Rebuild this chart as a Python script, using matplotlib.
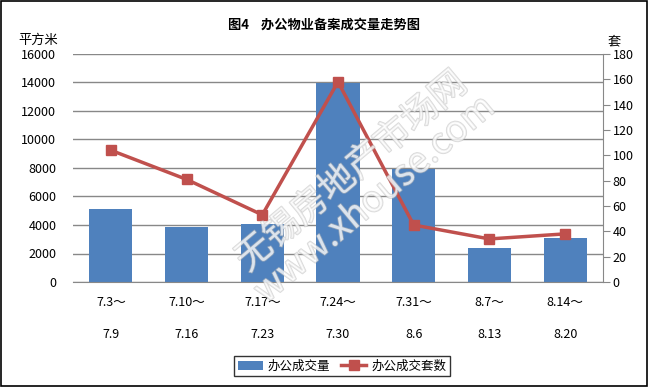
import matplotlib
matplotlib.use("Agg")
import numpy as np
from matplotlib import pyplot as plt
from matplotlib.patches import Rectangle
import matplotlib.patheffects as pe

plt.rcParams['font.family'] = ['Noto Sans CJK SC', 'DejaVu Sans']

# data
periods = ["7.3～\n\n7.9", "7.10～\n\n7.16", "7.17～\n\n7.23", "7.24～\n\n7.30",
           "7.31～\n\n8.6", "8.7～\n\n8.13", "8.14～\n\n8.20"]
area = [5120, 3860, 4070, 13990, 7930, 2390, 3090]      # 办公成交量 (平方米)
units = [104, 81, 53, 158, 45, 34, 38]                  # 办公成交套数 (套)

BLUE = "#4f81bd"
RED = "#c0504d"
GRID = "#888888"

fig = plt.figure(figsize=(6.49, 3.87), dpi=100)
fig.patches.append(Rectangle((0.002, 0.003), 0.995, 0.994, transform=fig.transFigure,
                             fill=False, edgecolor="black", linewidth=1.2))

ax = fig.add_axes([73 / 649, 1 - 282 / 387, 530 / 649, 228 / 387])
x = np.arange(len(periods))

bars = ax.bar(x, area, width=0.57, color=BLUE, zorder=2, label="办公成交量")
ax.set_xlim(-0.5, len(periods) - 0.5)
ax.set_ylim(0, 16000)
ax.set_yticks(range(0, 16001, 2000))
ax.yaxis.grid(True, color=GRID, linewidth=1)
ax.set_axisbelow(True)
for s in ["top", "right", "left"]:
    ax.spines[s].set_visible(False)
ax.spines["bottom"].set_color(GRID)
ax.tick_params(axis="y", length=0, labelsize=9, pad=12)
ax.tick_params(axis="x", length=0, labelsize=9, pad=10)
ax.set_xticks(x)
ax.set_xticklabels(periods, linespacing=1.3)

ax2 = ax.twinx()
line, = ax2.plot(x, units, color=RED, linewidth=2.5, marker="s", markersize=7,
                 zorder=3, label="办公成交套数")
ax2.set_ylim(0, 180)
ax2.set_yticks(range(0, 181, 20))
for s in ["top", "left", "bottom"]:
    ax2.spines[s].set_visible(False)
ax2.spines["right"].set_color(GRID)
ax2.tick_params(axis="y", length=5, color=GRID, labelsize=9, pad=2)

fig.text(0.5, 1 - 25 / 387, "图4    办公物业备案成交量走势图", ha="center", va="center",
         fontsize=9.5, fontweight="bold")
fig.text(38 / 649, 1 - 40 / 387, "平方米", ha="center", va="center", fontsize=9.5)
fig.text(614 / 649, 1 - 42 / 387, "套", ha="center", va="center", fontsize=9.5)

# watermark (outlined, faint)
wm = fig.text(0.56, 0.52, "无锡房地产市场网\nwww.xhouse.com", ha="center", va="center",
              fontsize=26, rotation=40, color="white", alpha=0.55, zorder=10,
              linespacing=1.0)
wm.set_path_effects([pe.Stroke(linewidth=1.2, foreground="#bbbbbb"), pe.Normal()])

leg = fig.legend([bars, line], ["办公成交量", "办公成交套数"], loc="center",
                 bbox_to_anchor=(342 / 649, 1 - 366 / 387), ncol=2, fontsize=9,
                 frameon=True, fancybox=False, edgecolor="black", handlelength=2.0,
                 handletextpad=0.4, columnspacing=0.9, borderpad=0.3)
leg.get_frame().set_linewidth(1.0)

fig.savefig("out.png", dpi=100)
